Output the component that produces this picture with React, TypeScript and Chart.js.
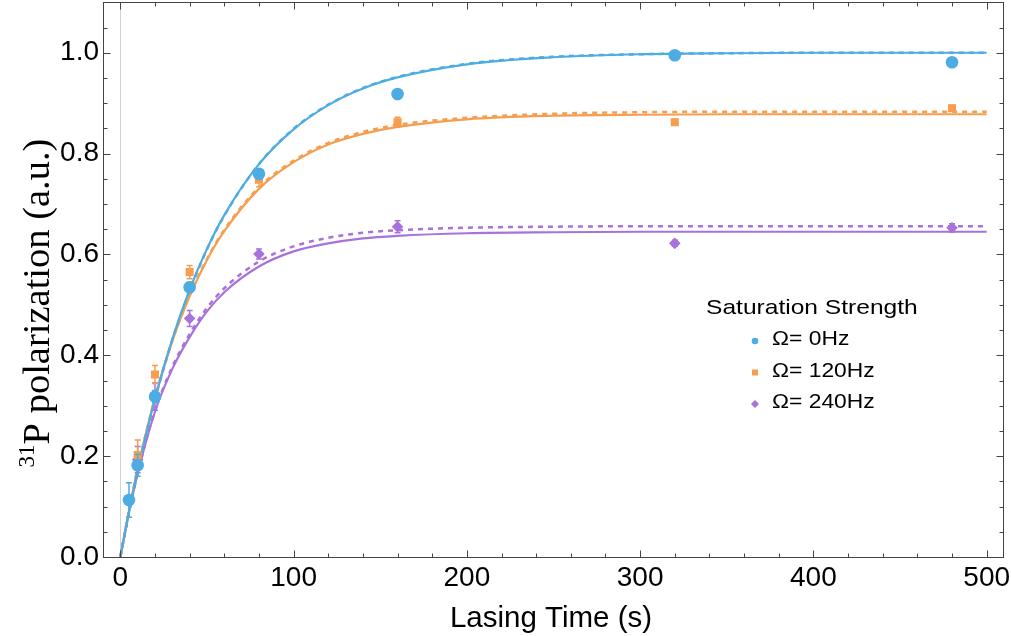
import React, { useEffect, useRef } from "react";
import { Chart, registerables } from "chart.js";
Chart.register(...registerables);

// ---------- data ----------
const seriesNames = ["Ω= 0Hz", "Ω= 120Hz", "Ω= 240Hz"];
const legendTitle = "Saturation Strength";
const xAxisTitle = "Lasing Time (s)";
const yAxisSup = "31";
const yAxisTitle = "P polarization (a.u.)";

const blueT = [5, 10, 20, 40, 80, 160, 320, 480];
const blueY = [0.113, 0.182, 0.318, 0.535, 0.76, 0.918, 0.995, 0.981];
const blueErr = [0.034, 0.022, 0.012, 0.01, 0.01, 0.008, 0.006, 0.006];

const orangeT = [10, 20, 40, 80, 160, 320, 480];
const orangeY = [0.202, 0.362, 0.565, 0.748, 0.862, 0.862, 0.89];
const orangeErr = [0.03, 0.018, 0.013, 0.014, 0.01, 0.006, 0.006];

const purpleT = [10, 20, 40, 80, 160, 320, 480];
const purpleY = [0.193, 0.318, 0.473, 0.601, 0.655, 0.622, 0.653];
const purpleErr = [0.026, 0.027, 0.016, 0.01, 0.012, 0.006, 0.008];

const fitT = [0, 5, 10, 20, 30, 40, 50, 60, 80, 100, 120, 140, 160, 200, 250, 300, 350, 400, 450, 500];
const blueFit = [0, 0.09, 0.172, 0.314, 0.432, 0.53, 0.611, 0.678, 0.779, 0.848, 0.896, 0.929, 0.951, 0.977, 0.991, 0.997, 0.999, 1.0, 1.0, 1.0];
const blueFitDashed = [0, 0.089, 0.17, 0.312, 0.43, 0.528, 0.61, 0.677, 0.779, 0.849, 0.897, 0.93, 0.952, 0.978, 0.992, 0.997, 0.999, 1.0, 1.0, 1.0];
const orangeFit = [0, 0.092, 0.175, 0.315, 0.428, 0.517, 0.589, 0.646, 0.73, 0.783, 0.818, 0.839, 0.853, 0.868, 0.875, 0.877, 0.878, 0.878, 0.878, 0.878];
const orangeFitDashed = [0, 0.092, 0.175, 0.316, 0.429, 0.519, 0.591, 0.649, 0.733, 0.786, 0.821, 0.843, 0.857, 0.871, 0.879, 0.882, 0.883, 0.883, 0.883, 0.883];
const purpleFit = [0, 0.088, 0.165, 0.288, 0.373, 0.436, 0.487, 0.525, 0.576, 0.606, 0.622, 0.632, 0.637, 0.642, 0.644, 0.645, 0.645, 0.645, 0.645, 0.645];
const purpleFitDashed = [0, 0.088, 0.166, 0.29, 0.377, 0.442, 0.494, 0.533, 0.586, 0.616, 0.633, 0.643, 0.648, 0.653, 0.655, 0.656, 0.656, 0.656, 0.656, 0.656];

const xTicks = [0, 100, 200, 300, 400, 500];
const yTicks = [0, 0.2, 0.4, 0.6, 0.8, 1.0];
const xMinorStep = 20;
const yMinorStep = 0.05;

// ---------- styles ----------
const BLUE = "#4DADE2";
const ORANGE = "#F69D4E";
const PURPLE = "#A872DC";
const SANS = "'Liberation Sans', Arial, sans-serif";
const SERIF = "'Liberation Serif', 'Times New Roman', serif";
const OY = 4; // canvas is shifted up by this many pixels

const pts = (t: number[], y: number[]) => t.map((v, i) => ({ x: v, y: y[i] }));

const errs = [blueErr, orangeErr, purpleErr];
const colors = [BLUE, ORANGE, PURPLE];

const customPlugin = {
  id: "custom",
  beforeDatasetsDraw(chart: any) {
    const { ctx, chartArea: a, scales } = chart;
    const x0 = Math.round(scales.x.getPixelForValue(0)) + 0.5;
    ctx.save();
    ctx.strokeStyle = "#d2d2d2";
    ctx.lineWidth = 1;
    ctx.beginPath();
    ctx.moveTo(x0, a.top);
    ctx.lineTo(x0, a.bottom);
    ctx.stroke();
    ctx.restore();
  },
  beforeDatasetDraw(chart: any, args: any) {
    const i = args.index;
    if (i > 2) return;
    const { ctx, scales } = chart;
    const data = chart.data.datasets[i].data;
    const e = errs[i];
    ctx.save();
    ctx.strokeStyle = colors[i];
    ctx.lineWidth = 1.5;
    data.forEach((p: any, k: number) => {
      const px = scales.x.getPixelForValue(p.x);
      const y1 = scales.y.getPixelForValue(p.y - e[k]);
      const y2 = scales.y.getPixelForValue(p.y + e[k]);
      ctx.beginPath();
      ctx.moveTo(px, y1);
      ctx.lineTo(px, y2);
      ctx.moveTo(px - 3, y1);
      ctx.lineTo(px + 3, y1);
      ctx.moveTo(px - 3, y2);
      ctx.lineTo(px + 3, y2);
      ctx.stroke();
    });
    ctx.restore();
  },
  afterDraw(chart: any) {
    const { ctx, chartArea: a, scales } = chart;
    const xs = scales.x;
    const ys = scales.y;
    ctx.save();
    // frame
    ctx.strokeStyle = "#444";
    ctx.lineWidth = 1;
    const L = Math.round(a.left) + 0.5;
    const R = Math.round(a.right) - 0.5;
    const T = Math.round(a.top) + 0.5;
    const B = Math.round(a.bottom) + 0.5;
    ctx.strokeRect(L, T, R - L, B - T);
    // ticks
    ctx.beginPath();
    const xt = (v: number, len: number) => {
      const p = Math.round(xs.getPixelForValue(v)) + 0.5;
      ctx.moveTo(p, B);
      ctx.lineTo(p, B - len);
      ctx.moveTo(p, T);
      ctx.lineTo(p, T + len);
    };
    const yt = (v: number, len: number) => {
      const p = Math.round(ys.getPixelForValue(v)) + 0.5;
      ctx.moveTo(L, p);
      ctx.lineTo(L + len, p);
      ctx.moveTo(R, p);
      ctx.lineTo(R - len, p);
    };
    for (let v = xMinorStep; v < 510; v += xMinorStep) {
      if (xTicks.indexOf(v) < 0) xt(v, 4);
    }
    xTicks.forEach((v) => xt(v, 7));
    for (let k = 1; k * yMinorStep < 1.1; k++) {
      const v = +(k * yMinorStep).toFixed(2);
      if (Math.abs(v * 5 - Math.round(v * 5)) > 1e-6) yt(v, 4);
    }
    yTicks.forEach((v) => yt(v, 7));
    ctx.stroke();

    // x title
    ctx.fillStyle = "#000";
    ctx.font = `29.5px ${SANS}`;
    ctx.textAlign = "center";
    ctx.textBaseline = "alphabetic";
    ctx.fillText(xAxisTitle, 551, 627 + OY);

    // y title (rotated, with superscript)
    ctx.save();
    ctx.translate(49, 303 + OY);
    ctx.rotate(-Math.PI / 2);
    ctx.textAlign = "left";
    ctx.font = `23px ${SERIF}`;
    const wSup = ctx.measureText(yAxisSup).width;
    ctx.font = `38.5px ${SERIF}`;
    const wMain = ctx.measureText(yAxisTitle).width;
    const start = -(wSup + wMain) / 2;
    ctx.font = `23px ${SERIF}`;
    ctx.fillText(yAxisSup, start, -15);
    ctx.font = `38.5px ${SERIF}`;
    ctx.fillText(yAxisTitle, start + wSup, 0);
    ctx.restore();

    // legend
    const sx = 1.17;
    ctx.textAlign = "left";
    ctx.save();
    ctx.translate(706, 314 + OY);
    ctx.scale(sx, 1);
    ctx.font = `21px ${SANS}`;
    ctx.fillText(legendTitle, 0, 0);
    ctx.restore();
    const rows = [345, 376.5, 408];
    seriesNames.forEach((name, i) => {
      const by = rows[i] + OY;
      const my = by - 4;
      ctx.fillStyle = colors[i];
      ctx.beginPath();
      if (i === 0) {
        ctx.arc(755, my, 3.3, 0, Math.PI * 2);
      } else if (i === 1) {
        ctx.rect(752, my - 3, 6, 6);
      } else {
        ctx.moveTo(755, my - 4);
        ctx.lineTo(759, my);
        ctx.lineTo(755, my + 4);
        ctx.lineTo(751, my);
        ctx.closePath();
      }
      ctx.fill();
      ctx.fillStyle = "#000";
      ctx.save();
      ctx.translate(772, by);
      ctx.scale(sx, 1);
      ctx.font = `19.5px ${SANS}`;
      ctx.fillText(name, 0, 0);
      ctx.restore();
    });
    ctx.restore();
  },
};

const noPad = (s: any) => {
  s.paddingTop = 0;
  s.paddingBottom = 0;
  s.paddingLeft = 0;
  s.paddingRight = 0;
};

export default function App() {
  const ref = useRef<HTMLCanvasElement>(null);
  useEffect(() => {
    if (!ref.current) return;
    const lineDs = (y: number[], color: string, dashed: boolean) => ({
      type: "line" as const,
      data: pts(fitT, y),
      borderColor: color,
      backgroundColor: color,
      borderWidth: dashed ? 2.5 : 2.2,
      borderDash: dashed ? [5, 5] : [],
      pointRadius: 0,
      fill: false,
      cubicInterpolationMode: "monotone" as const,
      showLine: true,
    });
    const chart = new Chart(ref.current, {
      type: "scatter",
      data: {
        datasets: [
          { label: seriesNames[0], data: pts(blueT, blueY), backgroundColor: BLUE, borderColor: BLUE, pointStyle: "circle", pointRadius: 6.3, borderWidth: 0 },
          { label: seriesNames[1], data: pts(orangeT, orangeY), backgroundColor: ORANGE, borderColor: ORANGE, pointStyle: "rect", pointRadius: 5.7, borderWidth: 0 },
          { label: seriesNames[2], data: pts(purpleT, purpleY), backgroundColor: PURPLE, borderColor: PURPLE, pointStyle: "rectRot", pointRadius: 5.8, borderWidth: 0 },
          lineDs(blueFit, BLUE, false),
          lineDs(orangeFit, ORANGE, false),
          lineDs(purpleFit, PURPLE, false),
          lineDs(blueFitDashed, BLUE, true),
          lineDs(orangeFitDashed, ORANGE, true),
          lineDs(purpleFitDashed, PURPLE, true),
        ] as any,
      },
      options: {
        animation: false,
        responsive: false,
        layout: { padding: { top: 0, right: 7, left: 0, bottom: 0 } },
        plugins: { legend: { display: false }, tooltip: { enabled: false } },
        scales: {
          x: {
            type: "linear",
            min: -10,
            max: 510,
            grid: { display: false, drawTicks: false },
            border: { display: false },
            afterBuildTicks: (s: any) => {
              s.ticks = xTicks.map((v) => ({ value: v }));
            },
            afterFit: (s: any) => {
              s.height = 79;
              noPad(s);
            },
            ticks: {
              font: { family: SANS, size: 28 },
              color: "#000",
              padding: 4,
              maxRotation: 0,
              autoSkip: false,
              callback: (v: any) => String(v),
            },
          },
          y: {
            type: "linear",
            min: 0,
            max: 1.1,
            grid: { display: false, drawTicks: false },
            border: { display: false },
            afterBuildTicks: (s: any) => {
              s.ticks = yTicks.map((v) => ({ value: v }));
            },
            afterFit: (s: any) => {
              s.width = 103;
              noPad(s);
            },
            ticks: {
              font: { family: SANS, size: 28 },
              color: "#000",
              padding: 4,
              autoSkip: false,
              callback: (v: any) => Number(v).toFixed(1),
            },
          },
        },
      } as any,
      plugins: [customPlugin],
    });
    return () => chart.destroy();
  }, []);
  return (
    <div style={{ position: "fixed", left: 0, top: 0, width: 1011, height: 636, background: "#fff", overflow: "hidden" }}>
      <canvas ref={ref} width={1011} height={640} style={{ display: "block", position: "absolute", left: 0, top: -OY }} />
    </div>
  );
}
